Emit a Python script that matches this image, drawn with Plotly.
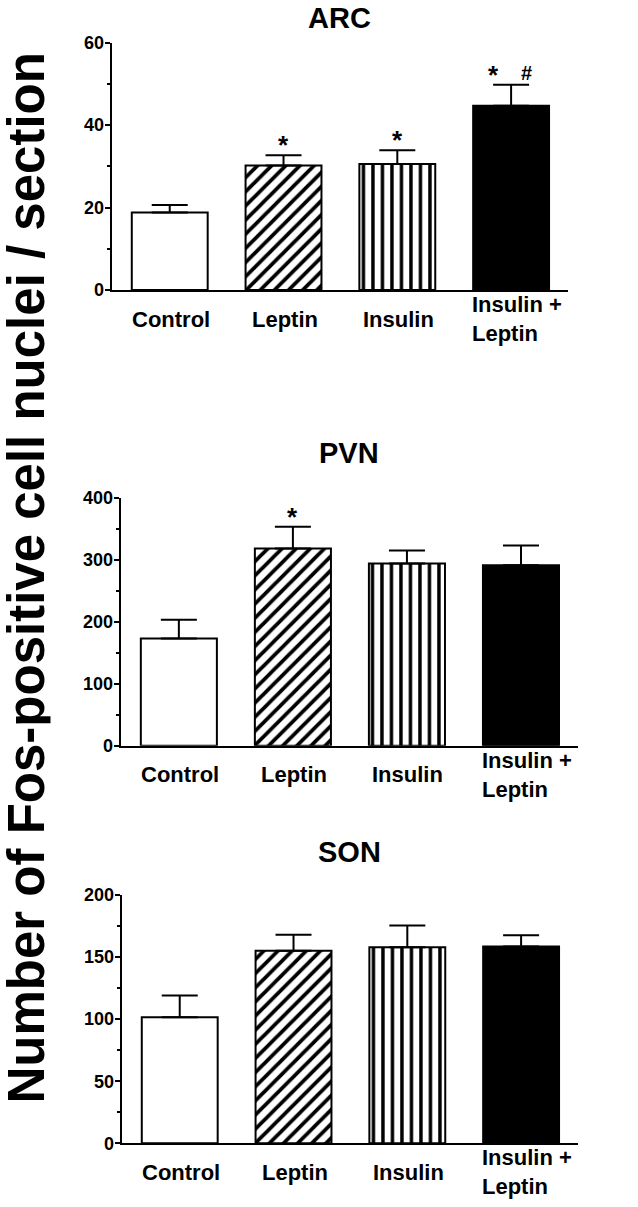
import plotly.graph_objects as go

# ---------------- data ----------------
categories = ["Control", "Leptin", "Insulin", "Insulin +<br>Leptin"]
panels = ["ARC", "PVN", "SON"]

arc_mean = [18.8, 30.2, 30.6, 44.7]
arc_sem = [1.8, 2.5, 3.3, 5.1]
pvn_mean = [173, 318, 294, 291]
pvn_sem = [30, 35, 21, 32]
son_mean = [101.5, 155, 158, 158.5]
son_sem = [17.5, 13, 17.5, 9]

arc_ticks = [0, 20, 40, 60]
pvn_ticks = [0, 100, 200, 300, 400]
son_ticks = [0, 50, 100, 150, 200]
y_minor = [10, 50, 25]

# significance markers: (panel index, category index, text, x pixel shift)
sig_marks = [
    (0, 1, "*", 0), (0, 2, "*", 0), (0, 3, "*", -18), (0, 3, "#", 15),
    (1, 1, "*", 0),
]
y_title = "Number of Fos-positive cell nuclei / section"

means = [arc_mean, pvn_mean, son_mean]
sems = [arc_sem, pvn_sem, son_sem]
ticks = [arc_ticks, pvn_ticks, son_ticks]

# ---------------- layout geometry (pixels) ----------------
W, H = 638, 1207
FONT = "Liberation Sans, Arial, sans-serif"
boxes = [(111.7, 568, 42.7, 290), (120.7, 578, 497.7, 745.7), (121.7, 578, 895, 1143.3)]
title_y = [18, 453, 852]

fills = ["white", "white", "white", "black"]
pattern_styles = [
    None,
    dict(shape="/", fgcolor="black", bgcolor="white", size=10, solidity=0.38, fillmode="replace"),
    dict(shape="|", fgcolor="black", bgcolor="white", size=9.5, solidity=0.36, fillmode="replace"),
    None,
]

fig = go.Figure()
annotations = []
layout = {}
for p in range(3):
    sfx = "" if p == 0 else str(p + 1)
    xa, ya = "x" + sfx, "y" + sfx
    for i, c in enumerate(categories):
        marker = dict(color=fills[i], line=dict(color="black", width=2))
        if pattern_styles[i] is not None:
            marker["pattern"] = pattern_styles[i]
        fig.add_trace(go.Bar(
            x=[c], y=[means[p][i]], xaxis=xa, yaxis=ya, width=0.667,
            marker=marker,
            error_y=dict(type="data", array=[sems[p][i]], arrayminus=[0], symmetric=False,
                         color="black", thickness=2, width=18),
            showlegend=False, hoverinfo="skip",
        ))
    l, r, t, b = boxes[p]
    layout["xaxis" + sfx] = dict(
        domain=[l / W, r / W], anchor=ya, type="category", range=[-0.51, 3.5],
        categoryorder="array", categoryarray=categories, automargin=False,
        showline=True, linecolor="black", linewidth=2, ticks="", showticklabels=False,
        showgrid=False, zeroline=False, fixedrange=True)
    layout["yaxis" + sfx] = dict(
        domain=[1 - b / H, 1 - t / H], anchor=xa, range=[0, max(ticks[p])], automargin=False,
        showline=True, linecolor="black", linewidth=2, ticks="outside", ticklen=5,
        tickwidth=2, tickcolor="black", ticklabelstandoff=-3,
        tickvals=ticks[p], ticktext=["<b>%d</b>" % v for v in ticks[p]],
        minor=dict(ticks="outside", ticklen=3, tickwidth=2, tickcolor="black",
                   tick0=0, dtick=y_minor[p]),
        tickfont=dict(family=FONT, size=18, color="black", weight=700),
        showgrid=False, zeroline=False, fixedrange=True)
    annotations.append(dict(
        text="<b>%s</b>" % panels[p], xref="paper", yref="paper",
        x=(l + r) / 2 / W, y=1 - title_y[p] / H, xanchor="center", yanchor="middle",
        showarrow=False, font=dict(family=FONT, size=29, color="black")))
    for i, c in enumerate(categories):
        annotations.append(dict(
            text="<b>%s</b>" % c, xref=xa, yref=ya + " domain", x=c, y=0,
            yshift=-29, xshift=(6 if "<br>" in c else 1),
            xanchor="center", yanchor="middle", align="left", showarrow=False,
            font=dict(family=FONT, size=22, color="black")))

for p, ci, txt, dx in sig_marks:
    sfx = "" if p == 0 else str(p + 1)
    annotations.append(dict(
        text="<b>%s</b>" % txt, xref="x" + sfx, yref="y" + sfx,
        x=categories[ci], y=means[p][ci] + sems[p][ci], xshift=dx,
        yshift=(-7 if txt == "*" else -1),
        xanchor="center", yanchor="bottom", showarrow=False,
        font=dict(family=FONT, size=(26 if txt == "*" else 20), color="black")))

annotations.append(dict(
    text="<b>%s</b>" % y_title, xref="paper", yref="paper",
    x=26 / W, y=1 - 578.5 / H, xanchor="center", yanchor="middle", textangle=-90,
    height=48, showarrow=False, font=dict(family=FONT, size=51, color="black")))

fig.update_layout(
    template="none",
    width=W, height=H, margin=dict(l=0, r=0, t=0, b=0, pad=0, autoexpand=False),
    paper_bgcolor="white", plot_bgcolor="white", barmode="overlay",
    annotations=annotations, **layout)

fig.write_html("out.html", config={"displayModeBar": False},
               post_script="document.body.style.margin='0';")
